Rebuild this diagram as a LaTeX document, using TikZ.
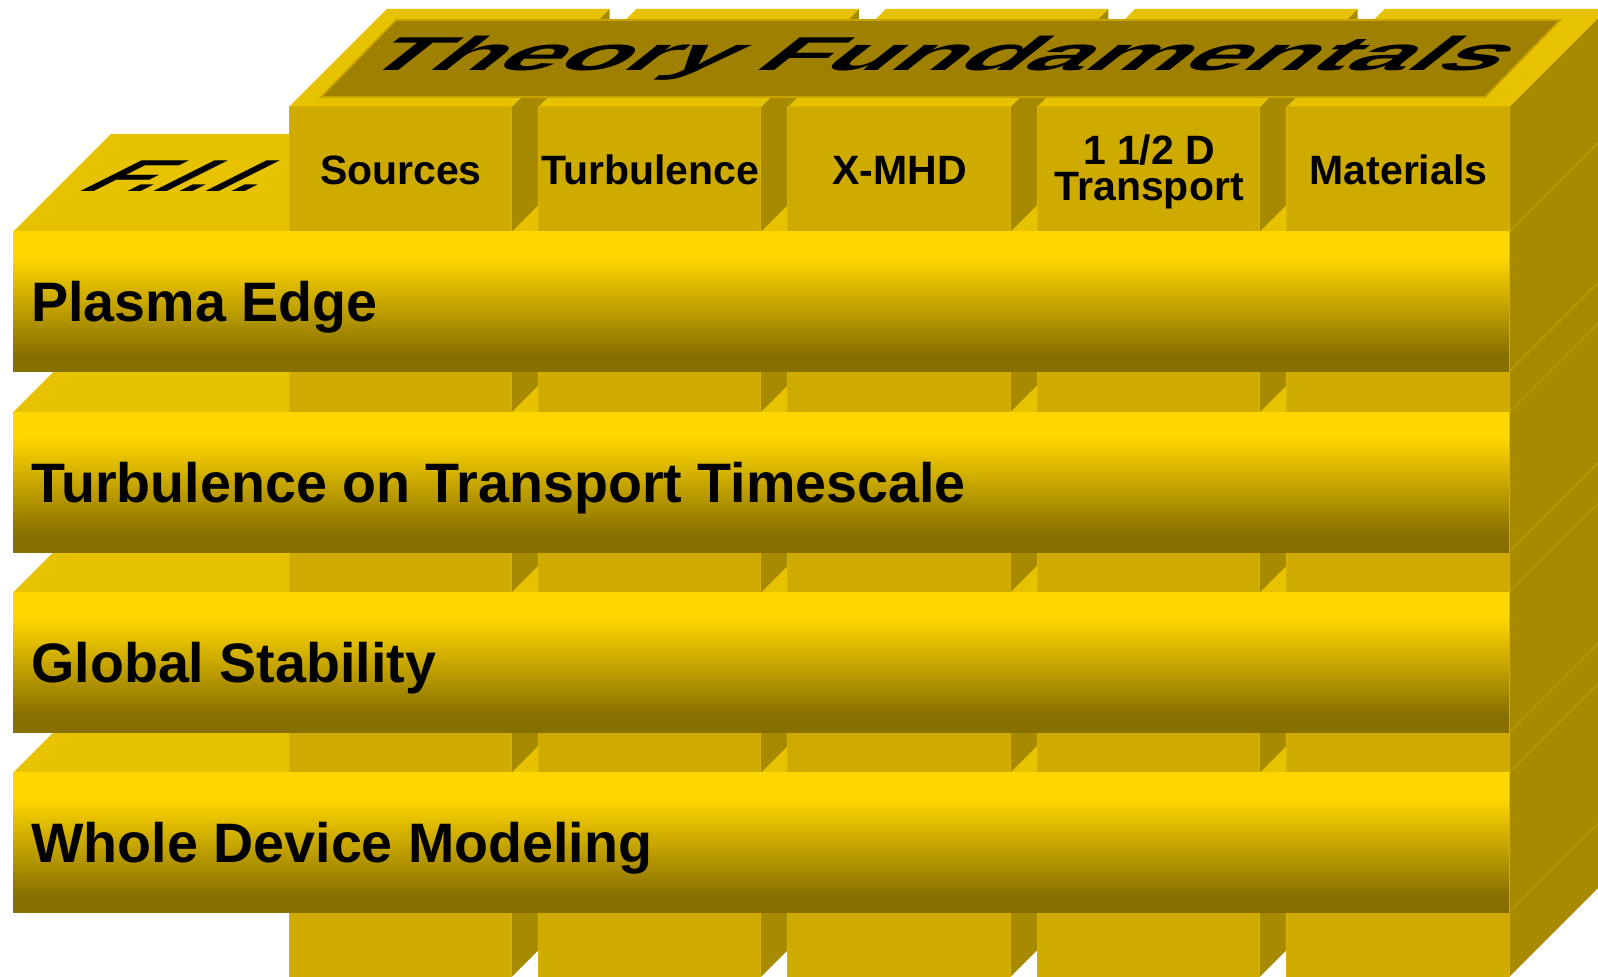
\documentclass[tikz,border=0pt]{standalone}
\usepackage{fontspec}
\setmainfont{Liberation Sans}
\definecolor{topface}{HTML}{E6C200}
\definecolor{colfront}{HTML}{CFAB00}
\definecolor{colrim}{HTML}{D8B400}
\definecolor{sideface}{HTML}{A88A00}
\definecolor{siderim}{HTML}{C4A400}
\definecolor{panel}{HTML}{A08000}
\definecolor{panelrim}{HTML}{C8A300}
\definecolor{rowtop}{HTML}{FFD600}
\definecolor{rowbottom}{HTML}{876F00}
\pgfdeclareverticalshading{rowshade}{100bp}{color(0bp)=(rowbottom); color(31bp)=(rowbottom); color(66bp)=(rowtop); color(100bp)=(rowtop)}

\begin{document}
\begin{tikzpicture}[x=0.5pt, y=0.5pt,
    colname/.style = {font=\fontsize{20.5}{18}\selectfont\bfseries, align=center},
    rowname/.style = {font=\fontsize{27.8}{30}\selectfont\bfseries, anchor=base west, inner sep=0pt},
    widename/.style = {font=\fontsize{#1}{28}\selectfont\bfseries, anchor=base, inner sep=0pt}]
\useasboundingbox (0,0) rectangle (1598,-977);
\clip (0,0) rectangle (1598,-977);
% column boxes, back faces first
\foreach \i in {0,...,4} {
    \pgfmathsetmacro{\xl}{289+249.4*\i}
    \pgfmathsetmacro{\xr}{\xl+222.5}
    \fill[sideface] (\xr,-107) -- ++(98,98) -- ++(0,-870) -- (\xr,-977) -- cycle;
    \fill[topface] (\xl,-107) -- (\xr,-107) -- ++(98,98) -- (\xl+98,-9) -- cycle;
}
% row boxes: top faces where no column cuts through, right edges
\foreach \j in {0,...,3} {
    \pgfmathsetmacro{\yt}{232+180.3*\j}
    \pgfmathsetmacro{\yb}{\yt+139.7}
    \fill[topface] (13,-\yt) -- (289,-\yt) -- ++(98,98) -- (111,-\yt+98) -- cycle;
    \foreach \i in {0,...,3} {
        \pgfmathsetmacro{\xr}{511.5+249.4*\i}
        \fill[topface] (\xr,-\yt) -- ++(26.9,0) -- ++(98,98) -- ++(-26.9,0) -- cycle;
    }
    \draw[siderim, line width=0.4pt] (1509,-\yt) -- ++(98,98) (1509,-\yb) -- ++(98,98);
}
% column fronts
\foreach \i in {0,...,4} {
    \pgfmathsetmacro{\xl}{289+249.4*\i}
    \filldraw[fill=colfront, draw=colrim, line width=0.5pt] (\xl,-107) rectangle (\xl+222.5,-980);
}
% row fronts
\foreach \j in {0,...,3} {
    \pgfmathsetmacro{\yt}{232+180.3*\j}
    \shade[shading=rowshade] (13,-\yt) rectangle (1509,-\yt-139.7);
}
\filldraw[fill=panel, draw=panelrim, line width=0.8pt] (321,-97) -- (1485,-97) -- (1560,-20) -- (396,-20) -- cycle;

\node[widename=23.75, xscale=2.3, xslant=0.55] (theory) at (925,-71) {Theory Fundamentals};
\node[widename=22.3, xscale=2.1, xslant=0.95] (fii) at (163,-192) {F.I.I.};

\node[colname, anchor=base] (sources) at (400.9,-185) {Sources};
\node[colname, anchor=base] (turbulence) at (650.3,-185) {Turbulence};
\node[colname, anchor=base] (xmhd) at (899.7,-185) {X-MHD};
\node[colname] (transport) at (1149.1,-172) {1 1/2 D\\Transport};
\node[colname, anchor=base] (materials) at (1398.5,-185) {Materials};

\node[rowname] (edge) at (31,-322) {Plasma Edge};
\node[rowname] (timescale) at (31,-502.3) {Turbulence on Transport Timescale};
\node[rowname] (stability) at (31,-682.6) {Global Stability};
\node[rowname] (device) at (31,-862.9) {Whole Device Modeling};
\end{tikzpicture}
\end{document}
